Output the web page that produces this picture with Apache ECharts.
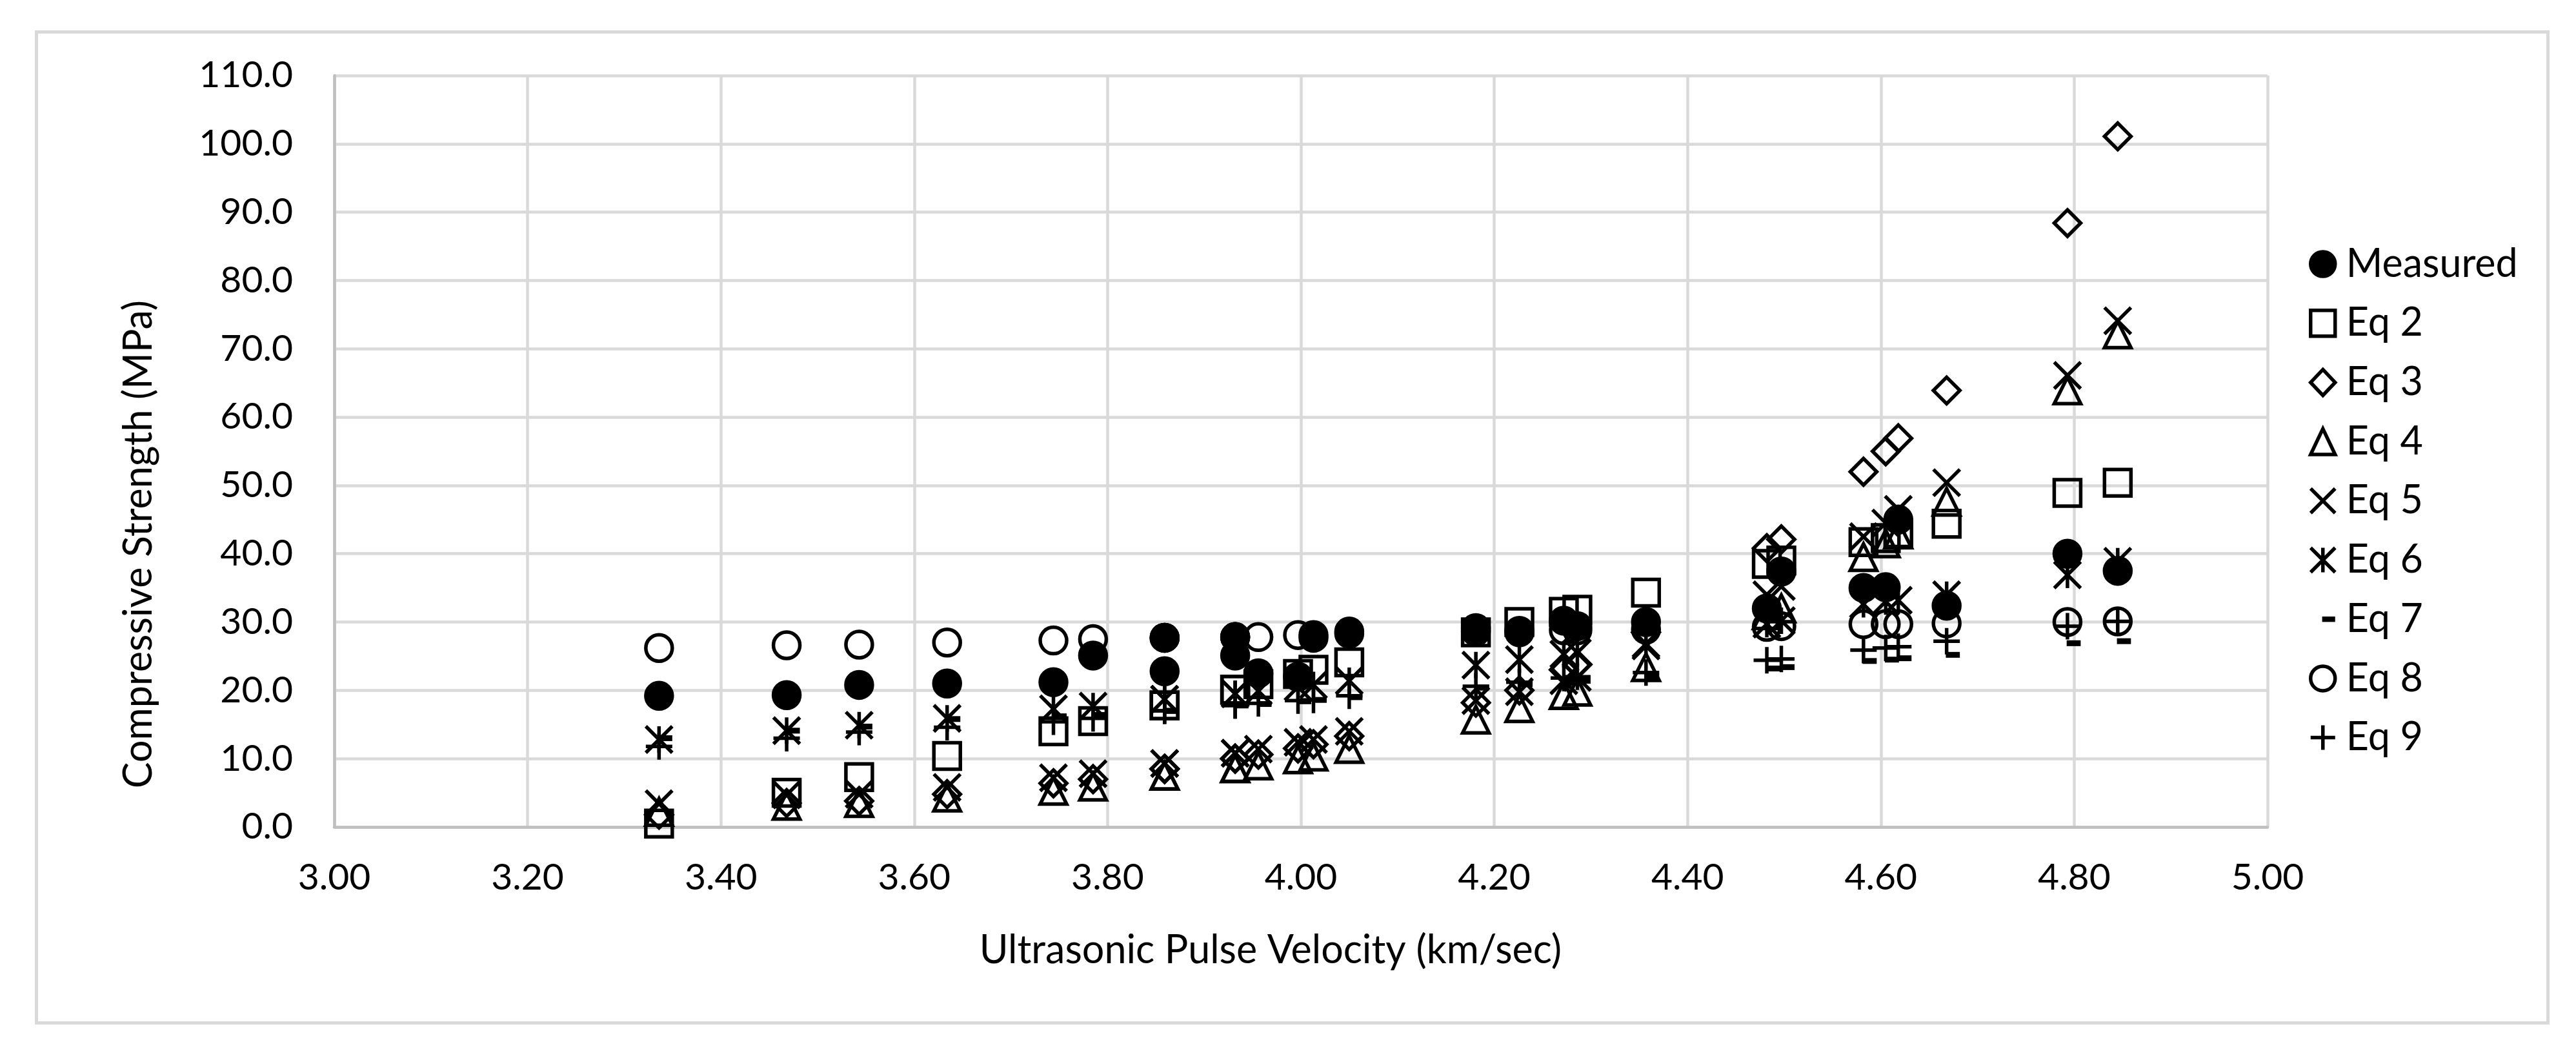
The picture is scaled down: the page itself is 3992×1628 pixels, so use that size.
<!DOCTYPE html>
<html>
<head>
<meta charset="utf-8">
<script src="https://cdn.jsdelivr.net/npm/echarts@6/dist/echarts.min.js"></script>
<style>
html,body{margin:0;padding:0;background:#ffffff;}
#chart{width:3992px;height:1628px;}
</style>
</head>
<body>
<div id="chart"></div>
<script>
// Ultrasonic pulse velocity (km/sec) of each specimen
const upv = [3.336, 3.468, 3.543, 3.634, 3.744, 3.785, 3.859, 3.859, 3.932, 3.932, 3.956, 3.997, 4.013, 4.050,
             4.181, 4.226, 4.272, 4.286, 4.357, 4.482, 4.497, 4.582, 4.605, 4.618, 4.668, 4.793, 4.845];
// Compressive strength (MPa)
const measured = [19.2, 19.3, 20.8, 21.0, 21.2, 25.1, 27.7, 22.8, 27.8, 25.1, 22.5, 22.0, 27.7, 28.6,
                  29.1, 28.5, 30.2, 29.4, 30.0, 32.0, 37.4, 35.0, 35.1, 45.0, 32.4, 40.0, 37.5];
const eq2 = [0.5, 5.0, 7.3, 10.4, 14.0, 15.5, 17.8, 17.8, 20.1, 20.1, 20.9, 22.4, 23.0, 24.1,
             28.5, 30.0, 31.5, 31.8, 34.3, 38.5, 39.0, 41.7, 42.3, 43.0, 44.4, 48.9, 50.4];
const eq3 = [1.8, 3.5, 3.8, 4.8, 6.4, 7.0, 8.5, 8.5, 10.0, 10.0, 10.6, 11.5, 12.1, 13.3,
             18.2, 20.0, 23.0, 23.8, 28.5, 40.8, 42.1, 52.0, 55.0, 56.9, 63.9, 88.4, 101.1];
const eq4 = [2.2, 3.1, 3.5, 4.3, 5.3, 5.9, 7.5, 7.5, 8.6, 8.6, 9.0, 9.9, 10.3, 11.4,
             15.7, 17.4, 19.3, 19.8, 23.4, 31.0, 32.0, 39.5, 41.5, 42.8, 47.6, 63.9, 72.1];
const eq5 = [3.4, 4.7, 4.8, 5.8, 7.2, 7.8, 9.3, 9.3, 10.8, 10.8, 11.4, 12.4, 12.8, 14.0,
             18.5, 19.8, 21.4, 21.9, 26.5, 34.0, 35.2, 42.5, 44.5, 46.5, 50.4, 66.1, 74.1];
const eq6 = [12.8, 14.1, 14.9, 15.9, 17.3, 17.7, 18.7, 18.7, 19.5, 19.5, 19.9, 20.5, 20.8, 21.4,
             23.7, 24.5, 25.3, 25.5, 26.8, 29.7, 30.2, 32.6, 33.0, 33.2, 34.0, 36.9, 38.9];
const eq7 = [13.0, 14.1, 14.7, 15.8, 16.2, 16.4, 17.0, 17.0, 17.8, 17.8, 18.0, 18.4, 18.6, 19.0,
             20.4, 20.9, 21.3, 21.4, 22.0, 23.2, 23.4, 24.3, 24.5, 24.7, 25.2, 26.9, 27.2];
const eq8 = [26.2, 26.6, 26.7, 27.0, 27.3, 27.5, 27.7, 27.7, 27.8, 27.8, 27.8, 28.1, 28.1, 28.3,
             28.6, 28.7, 28.8, 28.8, 28.9, 29.3, 29.4, 29.7, 29.7, 29.7, 29.8, 30.0, 30.1];
const eq9 = [11.8, 13.0, 13.9, 14.6, 15.4, 15.9, 17.0, 17.0, 17.8, 17.8, 18.1, 18.5, 18.6, 19.2,
             20.6, 21.2, 21.8, 22.0, 22.6, 24.4, 24.6, 25.9, 26.2, 26.4, 27.2, 29.4, 30.1];

const seriesNames = ['Measured', 'Eq 2', 'Eq 3', 'Eq 4', 'Eq 5', 'Eq 6', 'Eq 7', 'Eq 8', 'Eq 9'];
const seriesValues = [measured, eq2, eq3, eq4, eq5, eq6, eq7, eq8, eq9];
const xTitle = 'Ultrasonic Pulse Velocity (km/sec)';
const yTitle = 'Compressive Strength (MPa)';

const FONT = 'Lato';
const SZ = 41, BW = 5.5;
const symbols = [
  'circle',
  'rect',
  'diamond',
  'triangle',
  'path://M0,0L100,100M100,0L0,100',
  'path://M0,0L100,100M100,0L0,100M50,0L50,100',
  'path://M0,0M100,100M47,39L100,39L100,61L47,61Z',
  'circle',
  'path://M50,0L50,100M0,50L100,50'
];
const styles = [
  {color: '#000', borderColor: '#000', borderWidth: BW, opacity: 1},
  {color: 'transparent', borderColor: '#000', borderWidth: BW, opacity: 1},
  {color: 'transparent', borderColor: '#000', borderWidth: BW, opacity: 1},
  {color: 'transparent', borderColor: '#000', borderWidth: BW, opacity: 1},
  {color: 'transparent', borderColor: '#000', borderWidth: BW, opacity: 1},
  {color: 'transparent', borderColor: '#000', borderWidth: BW, opacity: 1},
  {color: '#000', borderColor: '#000', borderWidth: 0, opacity: 1},
  {color: 'transparent', borderColor: '#000', borderWidth: BW, opacity: 1},
  {color: 'transparent', borderColor: '#000', borderWidth: BW, opacity: 1}
];

const series = seriesNames.map((name, k) => ({
  name: name,
  type: 'scatter',
  data: upv.map((x, i) => [x, seriesValues[k][i]]),
  symbol: symbols[k],
  symbolSize: SZ,
  itemStyle: styles[k],
  emphasis: {disabled: true},
  silent: true
}));

const LEG_FS = 61;
const chart = echarts.init(document.getElementById('chart'), null, {renderer: 'canvas'});
chart.setOption({
  animation: false,
  backgroundColor: '#ffffff',
  grid: {left: 518, top: 117, width: 2996, height: 1164, containLabel: false},
  xAxis: {
    type: 'value', min: 3, max: 5, interval: 0.2,
    axisLine: {show: true, lineStyle: {color: '#bfbfbf', width: 4.5}},
    axisTick: {show: false},
    splitLine: {show: true, lineStyle: {color: '#d9d9d9', width: 4.5}},
    axisLabel: {color: '#000', fontFamily: FONT, fontSize: 57, margin: 50,
      formatter: v => v.toFixed(2)}
  },
  yAxis: {
    type: 'value', min: 0, max: 110, interval: 10,
    axisLine: {show: true, lineStyle: {color: '#bfbfbf', width: 4.5}},
    axisTick: {show: false},
    splitLine: {show: true, lineStyle: {color: '#d9d9d9', width: 4.5}},
    axisLabel: {color: '#000', fontFamily: FONT, fontSize: 57, margin: 64,
      formatter: v => v.toFixed(1)}
  },
  legend: {
    orient: 'vertical',
    left: 3573, top: 404 - LEG_FS / 2,
    itemWidth: 38, itemHeight: 40,
    itemGap: 91.7 - LEG_FS,
    selectedMode: false,
    itemStyle: {borderWidth: BW, opacity: 1},
    textStyle: {color: '#000', fontFamily: FONT, fontSize: LEG_FS, padding: [0, 0, 0, 12]},
    data: seriesNames.map((n, k) => k === 6 ? {name: n, itemStyle: {borderWidth: 0}} : {name: n})
  },
  graphic: [
    {type: 'rect', left: 54, top: 47, shape: {width: 3892, height: 1535},
     style: {fill: 'none', stroke: '#d9d9d9', lineWidth: 5}, silent: true, z: -1},
    {type: 'text', x: 215, y: 843, rotation: Math.PI / 2,
     style: {text: yTitle, fill: '#000', font: '61px Lato', align: 'center', verticalAlign: 'middle'}},
    {type: 'text', x: 1969, y: 1472,
     style: {text: xTitle, fill: '#000', font: '61px Lato', align: 'center', verticalAlign: 'middle'}}
  ],
  series: series
});
</script>
</body>
</html>
